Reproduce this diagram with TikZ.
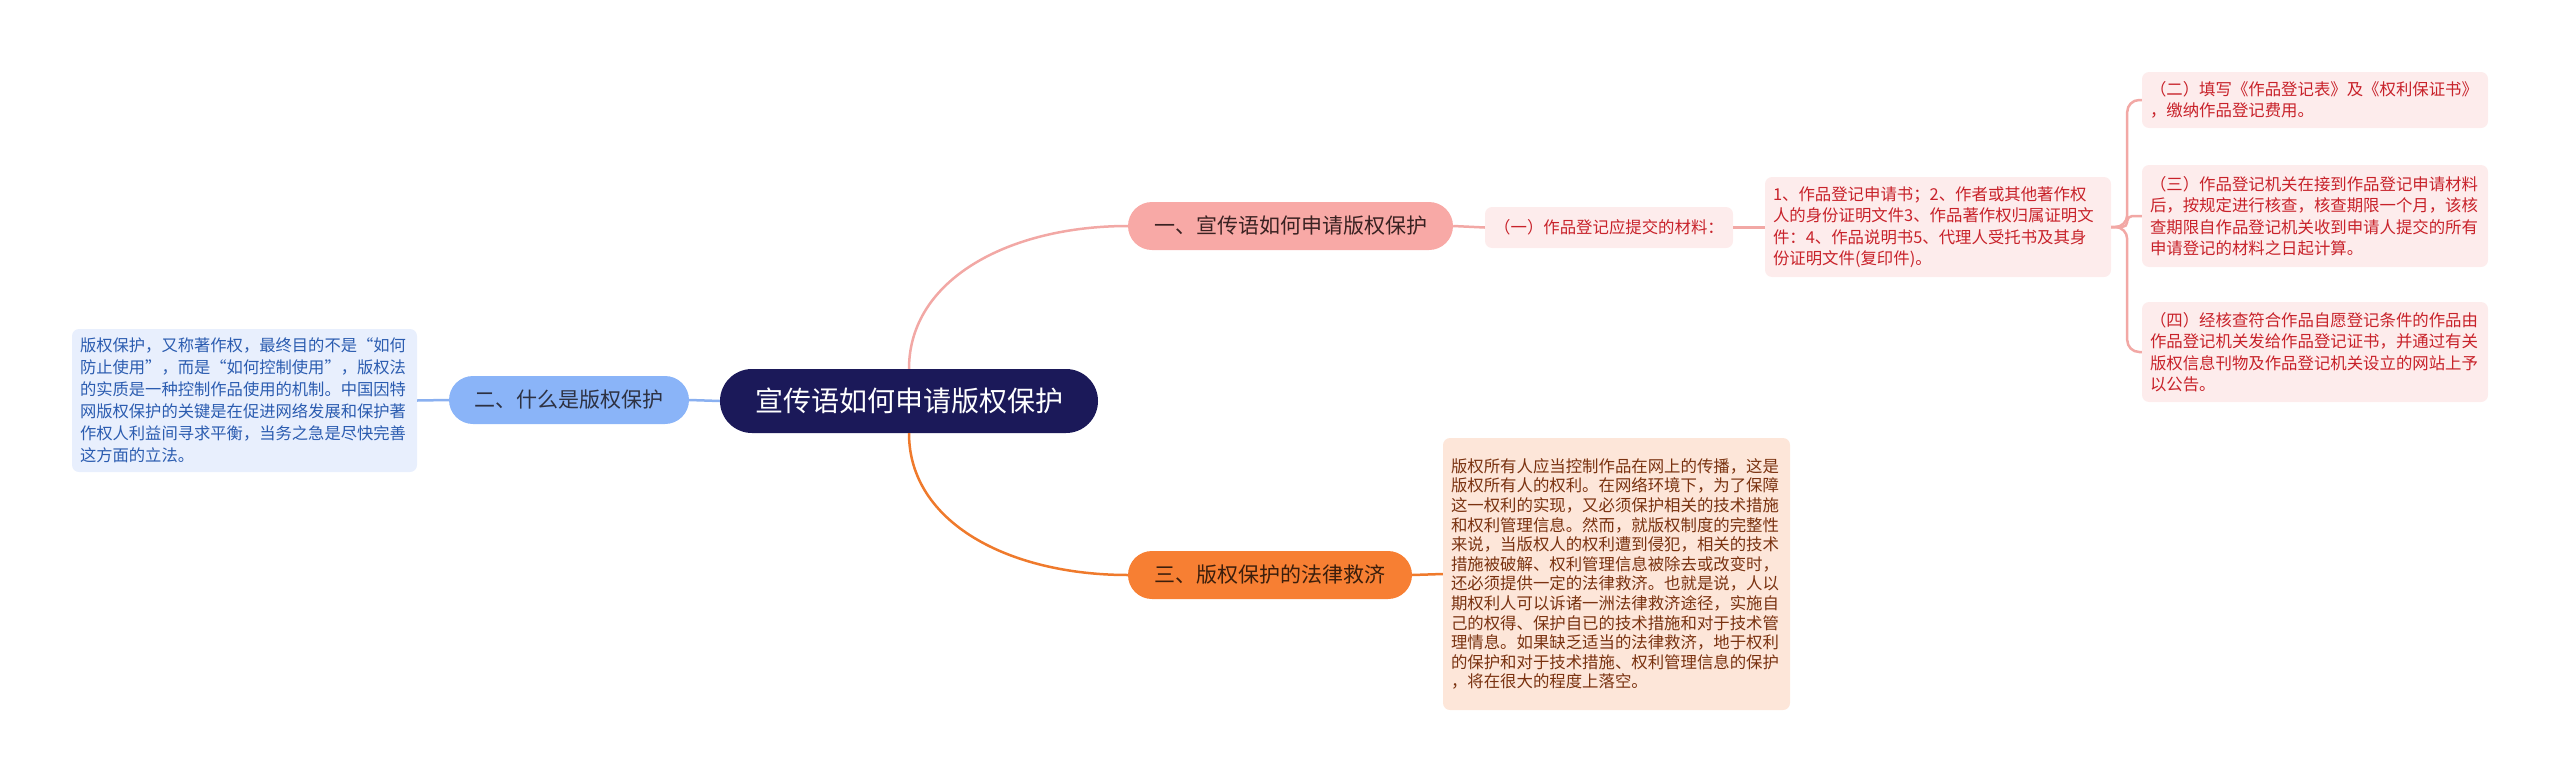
\documentclass[tikz,border=0pt]{standalone}
\usepackage{fontspec}
\setmainfont{Noto Sans CJK SC}
\definecolor{navy}{HTML}{1B1959}
\definecolor{blueNode}{HTML}{8AB4F8}
\definecolor{blueLine}{HTML}{8AB0F0}
\definecolor{leftBg}{HTML}{E8EFFD}
\definecolor{leftText}{HTML}{2B5CB0}
\definecolor{pinkNode}{HTML}{F8A9A6}
\definecolor{pinkLine}{HTML}{F2A8A5}
\definecolor{pinkBg}{HTML}{FDECEC}
\definecolor{redText}{HTML}{C8222A}
\definecolor{orangeNode}{HTML}{F77F33}
\definecolor{orangeLine}{HTML}{EF7A2C}
\definecolor{orangeBg}{HTML}{FDE6D9}
\definecolor{brownText}{HTML}{7A3210}
\definecolor{twoText}{HTML}{2D3142}
\definecolor{oneText}{HTML}{3A2222}
\definecolor{threeText}{HTML}{3B1E0C}
\begin{document}
\begin{tikzpicture}[x=1pt,y=-1pt,
  mainnode/.style={rounded corners=32pt, fill=navy, text=white, font=\fontsize{28}{34}\selectfont, minimum width=378pt, minimum height=64pt, inner sep=0pt},
  branchnode/.style={rounded corners=24pt, minimum height=48pt, font=\fontsize{21}{25}\selectfont, inner sep=0pt},
  leafnode/.style={rounded corners=7pt, align=left, inner xsep=8pt, inner ysep=0pt, font=\fontsize{16.4}{21.5}\selectfont},
  conn/.style={line width=2.5pt}
]
\useasboundingbox (0,0) rectangle (2560,782);

% nodes
\node[mainnode] (c) at (909,401) {宣传语如何申请版权保护};
\node[branchnode, fill=blueNode, text=twoText, minimum width=240pt] (n2) at (569,400) {二、什么是版权保护};
\node[leafnode, fill=leftBg, text=leftText, text width=329pt, minimum height=143pt, font=\fontsize{16.3}{22}\selectfont] (l2) at (244.5,400.5) {版权保护，又称著作权，最终目的不是“如何\\
防止使用”，而是“如何控制使用”，版权法\\
的实质是一种控制作品使用的机制。中国因特\\
网版权保护的关键是在促进网络发展和保护著\\
作权人利益间寻求平衡，当务之急是尽快完善\\
这方面的立法。};

\node[branchnode, fill=pinkNode, text=oneText, minimum width=325pt] (n1) at (1290.5,226) {一、宣传语如何申请版权保护};
\node[leafnode, fill=pinkBg, text=redText, minimum width=248pt, minimum height=41pt, align=center] (a1) at (1609,227.5) {（一）作品登记应提交的材料：};
\node[leafnode, fill=pinkBg, text=redText, text width=330pt, minimum height=100pt] (b1) at (1938,227) {1、作品登记申请书；2、作者或其他著作权\\
人的身份证明文件3、作品著作权归属证明文\\
件：4、作品说明书5、代理人受托书及其身\\
份证明文件(复印件)。};
\node[leafnode, fill=pinkBg, text=redText, text width=330pt, minimum height=56pt] (r2) at (2315,100) {（二）填写《作品登记表》及《权利保证书》\\
，缴纳作品登记费用。};
\node[leafnode, fill=pinkBg, text=redText, text width=330pt, minimum height=102pt] (r3) at (2315,216) {（三）作品登记机关在接到作品登记申请材料\\
后，按规定进行核查，核查期限一个月，该核\\
查期限自作品登记机关收到申请人提交的所有\\
申请登记的材料之日起计算。};
\node[leafnode, fill=pinkBg, text=redText, text width=330pt, minimum height=100pt] (r4) at (2315,352) {（四）经核查符合作品自愿登记条件的作品由\\
作品登记机关发给作品登记证书，并通过有关\\
版权信息刊物及作品登记机关设立的网站上予\\
以公告。};

\node[branchnode, fill=orangeNode, text=threeText, minimum width=284pt] (n3) at (1270,575) {三、版权保护的法律救济};
\node[leafnode, fill=orangeBg, text=brownText, text width=331pt, minimum height=272pt, font=\fontsize{16.4}{19.6}\selectfont] (b3) at (1616.5,574) {版权所有人应当控制作品在网上的传播，这是\\
版权所有人的权利。在网络环境下，为了保障\\
这一权利的实现，又必须保护相关的技术措施\\
和权利管理信息。然而，就版权制度的完整性\\
来说，当版权人的权利遭到侵犯，相关的技术\\
措施被破解、权利管理信息被除去或改变时，\\
还必须提供一定的法律救济。也就是说，人以\\
期权利人可以诉诸一洲法律救济途径，实施自\\
己的权得、保护自已的技术措施和对于技术管\\
理情息。如果缺乏适当的法律救济，地于权利\\
的保护和对于技术措施、权利管理信息的保护\\
，将在很大的程度上落空。};

% connectors
\draw[conn, blueLine] (c.west) -- (n2.east);
\draw[conn, blueLine] (n2.west) -- (l2.east);
\draw[conn, pinkLine] (c.north) .. controls +(0,-90) and +(-118,0) .. (n1.west);
\draw[conn, orangeLine] (c.south) .. controls +(0,90) and +(-118,0) .. (n3.west);
\draw[conn, pinkLine] (n1.east) -- (a1.west);
\draw[conn, pinkLine] (a1.east) -- (b1.west |- a1.east);
\draw[conn, pinkLine, rounded corners=12pt] (b1.east) -- ++(16,0) |- (r2.west);
\draw[conn, pinkLine, rounded corners=5pt] (b1.east) -- ++(16,0) |- (r3.west);
\draw[conn, pinkLine, rounded corners=12pt] (b1.east) -- ++(16,0) |- (r4.west);
\draw[conn, orangeLine] (n3.east) -- (b3.west);
\end{tikzpicture}
\end{document}
